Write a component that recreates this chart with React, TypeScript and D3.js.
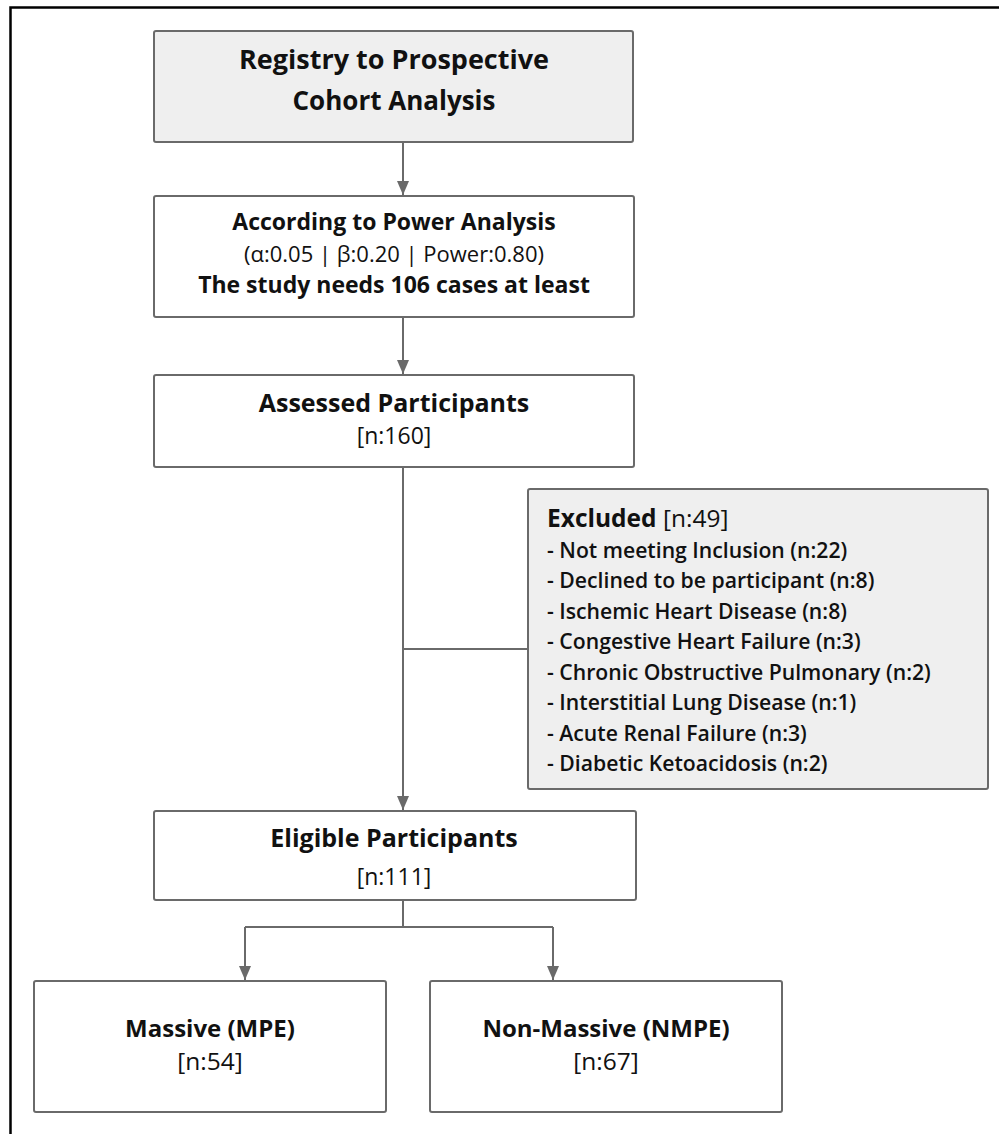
import React, { useEffect, useRef } from 'react';
import * as d3 from 'd3';

// flow stages, top to bottom
const registryTitle = ['Registry to Prospective', 'Cohort Analysis'];
const powerLines = ['According to Power Analysis', '(α:0.05 | β:0.20 | Power:0.80)', 'The study needs 106 cases at least'];
const stageTitles = ['Assessed Participants', 'Eligible Participants'];
const stageCounts = [160, 111];

const excludedTotal = 49;
const excludedReasons = [
    'Not meeting Inclusion',
    'Declined to be participant',
    'Ischemic Heart Disease',
    'Congestive Heart Failure',
    'Chronic Obstructive Pulmonary',
    'Interstitial Lung Disease',
    'Acute Renal Failure',
    'Diabetic Ketoacidosis',
];
const excludedCounts = [22, 8, 8, 3, 2, 1, 3, 2];

const groupNames = ['Massive (MPE)', 'Non-Massive (NMPE)'];
const groupCounts = [54, 67];

const W = 999;
const H = 1134;
const FONT = '"Open Sans", Lato, sans-serif';
const LINE = '#6a6a6a';
const FILL = '#efefef';
const INK = '#111';

const App: React.FC = () => {
    const ref = useRef<SVGSVGElement>(null);

    useEffect(() => {
        const svg = d3.select(ref.current);
        svg.selectAll('*').remove();

        const defs = svg.append('defs');
        defs.append('marker')
            .attr('id', 'arrow')
            .attr('viewBox', '0 0 14 12')
            .attr('refX', 14)
            .attr('refY', 6)
            .attr('markerUnits', 'userSpaceOnUse')
            .attr('markerWidth', 14)
            .attr('markerHeight', 12)
            .attr('orient', 'auto')
            .append('path')
            .attr('d', 'M0,0L14,6L0,12Z')
            .attr('fill', LINE);

        // outer frame (only top & left edges are visible)
        svg.append('path')
            .attr('d', `M10.5,${H}V7.5H${W}`)
            .attr('fill', 'none')
            .attr('stroke', '#000')
            .attr('stroke-width', 2.5);

        const box = (x: number, y: number, w: number, h: number, fill: string) =>
            svg.append('rect')
                .attr('x', x).attr('y', y).attr('width', w).attr('height', h)
                .attr('rx', 2)
                .attr('fill', fill)
                .attr('stroke', LINE)
                .attr('stroke-width', 2);

        const text = (x: number, y: number, s: string, size: number, weight: string, anchor = 'middle') =>
            svg.append('text')
                .attr('x', x).attr('y', y)
                .attr('text-anchor', anchor)
                .attr('font-family', FONT)
                .attr('font-size', size)
                .attr('font-weight', weight)
                .attr('fill', INK)
                .text(s);

        const link = (pts: [number, number][], arrow: boolean) => {
            const p = svg.append('path')
                .attr('d', d3.line()(pts))
                .attr('fill', 'none')
                .attr('stroke', LINE)
                .attr('stroke-width', 2);
            if (arrow) p.attr('marker-end', 'url(#arrow)');
        };

        const cx = 394;
        const stem = 403;

        // registry
        box(154, 31, 479, 111, FILL);
        text(cx, 69, registryTitle[0], 27, 'bold');
        text(cx, 110, registryTitle[1], 26, 'bold');

        // power analysis
        box(154, 196, 480, 121, '#fff');
        text(cx, 230, powerLines[0], 23, 'bold');
        text(cx, 262, powerLines[1], 22, 'normal');
        text(cx, 293, powerLines[2], 23, 'bold');

        // assessed
        box(154, 375, 480, 92, '#fff');
        text(cx, 412, stageTitles[0], 25, 'bold');
        text(cx, 444, `[n:${stageCounts[0]}]`, 23, 'normal');

        // excluded
        box(528, 489, 460, 300, FILL);
        const ex = text(547, 527, '', 24.5, 'bold', 'start');
        ex.append('tspan').text('Excluded ');
        ex.append('tspan').attr('font-weight', 'normal').text(`[n:${excludedTotal}]`);

        const rowY = d3.scalePoint<string>()
            .domain(excludedReasons)
            .range([558, 771]);
        excludedReasons.forEach((r, i) => {
            text(547, rowY(r)!, `- ${r} (n:${excludedCounts[i]})`, 21.2, '600', 'start');
        });

        // eligible
        box(154, 811, 482, 89, '#fff');
        text(cx, 847, stageTitles[1], 25, 'bold');
        text(cx, 885, `[n:${stageCounts[1]}]`, 23, 'normal');

        // groups
        const groupX = d3.scalePoint<string>().domain(groupNames).range([210, 606]);
        const groupLeft = [34, 430];
        groupNames.forEach((g, i) => {
            box(groupLeft[i], 981, 352, 131, '#fff');
            text(groupX(g)!, 1037, g, 24, 'bold');
            text(groupX(g)!, 1070, `[n:${groupCounts[i]}]`, 24.5, 'normal');
        });

        // connectors
        link([[stem, 142], [stem, 195]], true);
        link([[stem, 317], [stem, 374]], true);
        link([[stem, 467], [stem, 810]], true);
        link([[stem, 649], [528, 649]], false);
        link([[stem, 900], [stem, 927]], false);
        link([[245, 927], [553, 927]], false);
        link([[245, 927], [245, 980]], true);
        link([[553, 927], [553, 980]], true);
    }, []);

    return (
        <svg ref={ref} width={W} height={H}
            style={{ position: 'absolute', left: 0, top: 0, background: '#fff' }} />
    );
};

export default App;
